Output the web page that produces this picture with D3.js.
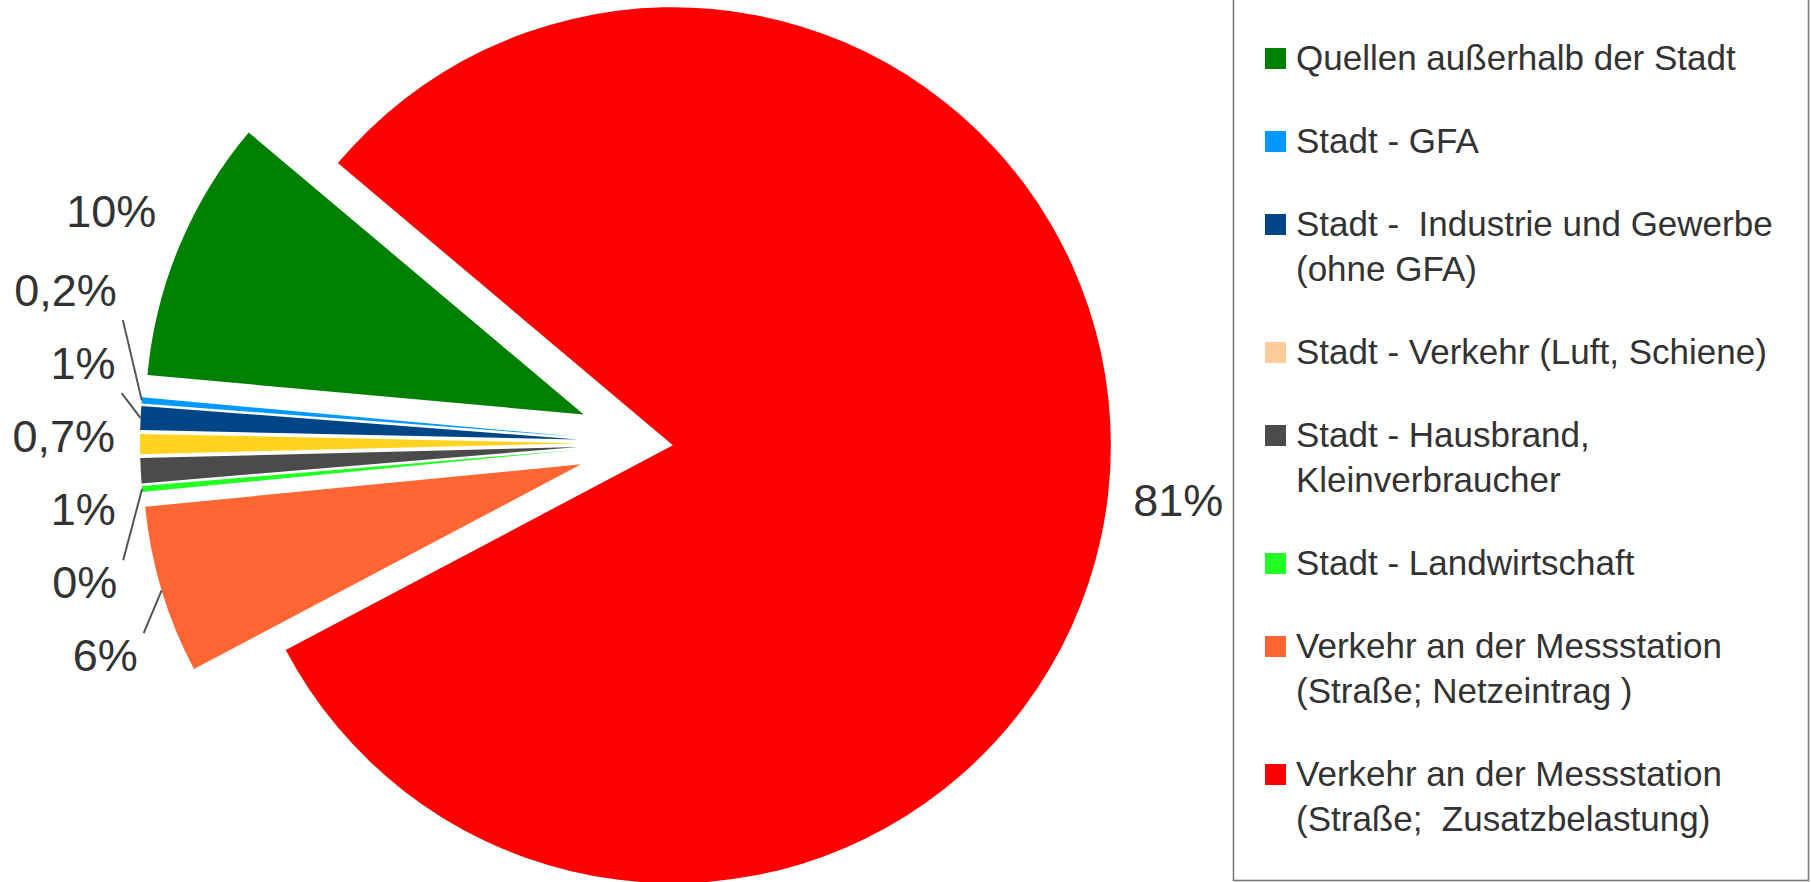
<!DOCTYPE html>
<html>
<head>
<meta charset="utf-8">
<script src="https://cdn.jsdelivr.net/npm/d3@7/dist/d3.min.js"></script>
<style>
  html, body { margin: 0; padding: 0; background: #fff; }
  svg { display: block; font-family: "Liberation Sans", Arial, sans-serif; }
</style>
</head>
<body>
<svg id="chart" width="1811" height="882"></svg>
<script>
// Categories in legend order (the pie runs counter-clockwise in this order).
// A "\n" splits a legend entry into two lines.
const categories = [
    'Quellen außerhalb der Stadt',
    'Stadt - GFA',
    'Stadt -  Industrie und Gewerbe\n(ohne GFA)',
    'Stadt - Verkehr (Luft, Schiene)',
    'Stadt - Hausbrand,\nKleinverbraucher',
    'Stadt - Landwirtschaft',
    'Verkehr an der Messstation\n(Straße; Netzeintrag )',
    'Verkehr an der Messstation\n(Straße;  Zusatzbelastung)'
];
// Shares in percent.
const shares = [9.7, 0.22, 0.88, 0.74, 0.92, 0.22, 6.2, 81.1];
// The percentage labels as printed on the chart.
const shareLabels = ['10%', '0,2%', '1%', '0,7%', '1%', '0%', '6%', '81%'];
// Slice colours and legend colours (the original legend shows a different swatch for "Verkehr (Luft, Schiene)").
const sliceColors = ['#008000', '#0099ff', '#004586', '#ffd320', '#4b4b4b', '#22ff22', '#ff6633', '#ff0000'];
const legendColors = ['#008000', '#0099ff', '#004586', '#ffcc99', '#4b4b4b', '#22ff22', '#ff6633', '#ff0000'];
// Labels that got pushed away from their slice and carry a connector line.
const leaderCategories = [categories[1], categories[2], categories[5], categories[6]];

// Layout settings.
const cx = 652, cy = 443, radius = 438;
const startDeg = 310.1;
const explodeMain = 21, explodeOther = 74;
const labelGap = 25, labelFont = 45, labelBoxH = 52, labelSpacing = 73;
const textColor = '#333333';

const svg = d3.select('#chart');
svg.append('rect').attr('width', 1811).attr('height', 882).attr('fill', '#fff');

const data = categories.map((c, i) => ({ name: c, value: shares[i], label: shareLabels[i], color: sliceColors[i] }));
const maxShare = d3.max(shares);

// Counter-clockwise pie, starting at the upper-left edge of the green slice.
const pie = d3.pie()
    .sort(null)
    .value(d => d.value)
    .startAngle(startDeg * Math.PI / 180)
    .endAngle((startDeg - 360) * Math.PI / 180);

const arc = d3.arc().innerRadius(0).outerRadius(radius);
const arcs = pie(data);

// Every slice is pulled out along its own middle angle.
arcs.forEach(a => {
    a.mid = (a.startAngle + a.endAngle) / 2;
    a.ux = Math.sin(a.mid);
    a.uy = -Math.cos(a.mid);
    const off = a.data.value === maxShare ? explodeMain : explodeOther;
    a.ox = cx + off * a.ux;
    a.oy = cy + off * a.uy;
});

svg.append('g')
    .selectAll('path')
    .data(arcs)
    .join('path')
    .attr('transform', d => `translate(${d.ox},${d.oy})`)
    .attr('d', arc)
    .attr('fill', d => d.data.color);

// Natural label positions just outside the arc.
arcs.forEach(a => {
    a.ax = a.ox + (radius + labelGap) * a.ux;
    const ay = a.oy + (radius + labelGap) * a.uy;
    a.side = a.ux < 0 ? 'end' : 'start';
    a.y0 = Math.abs(a.uy) < 0.3 ? ay + a.uy * labelBoxH : ay + Math.sign(a.uy) * labelBoxH / 2;
    a.ly = a.y0;
});

// Push crowded labels apart: merge overlapping ones into clusters centred on their mean.
function spread(items, gap) {
    items.sort((a, b) => a.y0 - b.y0);
    let clusters = items.map(it => ({ items: [it], mean: it.y0 }));
    let changed = true;
    while (changed) {
        changed = false;
        for (let k = 1; k < clusters.length; k++) {
            const a = clusters[k - 1], b = clusters[k];
            const aBottom = a.mean + (a.items.length - 1) * gap / 2;
            const bTop = b.mean - (b.items.length - 1) * gap / 2;
            if (bTop - aBottom < gap) {
                const merged = a.items.concat(b.items);
                clusters.splice(k - 1, 2, { items: merged, mean: d3.mean(merged, d => d.y0) });
                changed = true;
                break;
            }
        }
    }
    clusters.forEach(c => c.items.forEach((it, j) => {
        it.ly = c.mean + (j - (c.items.length - 1) / 2) * gap;
    }));
}
spread(arcs.filter(a => a.side === 'end'), labelSpacing);
spread(arcs.filter(a => a.side === 'start'), labelSpacing);

// Connector lines from the moved labels back to their slices.
svg.append('g')
    .selectAll('line')
    .data(arcs.filter(a => leaderCategories.includes(a.data.name)))
    .join('line')
    .attr('x1', d => d.ax + (d.side === 'end' ? 6 : -6))
    .attr('y1', d => {
        const tipY = d.oy + radius * d.uy;
        return d.ly < tipY ? d.ly + labelBoxH / 2 + 4 : d.ly - labelBoxH / 2 + 4;
    })
    .attr('x2', d => d.ox + radius * d.ux)
    .attr('y2', d => d.oy + radius * d.uy)
    .attr('stroke', '#555')
    .attr('stroke-width', 2);

svg.append('g')
    .selectAll('text')
    .data(arcs)
    .join('text')
    .attr('x', d => d.ax)
    .attr('y', d => d.ly + labelFont * 0.36)
    .attr('text-anchor', d => d.side)
    .attr('font-size', labelFont)
    .attr('fill', textColor)
    .text(d => d.data.label);

// Legend box on the right.
const legend = svg.append('g');
legend.append('rect')
    .attr('x', 1233.5).attr('y', -3)
    .attr('width', 575).attr('height', 883.5)
    .attr('fill', 'none')
    .attr('stroke', '#7a7a7a')
    .attr('stroke-width', 1.6);

const legendFont = 35, legendLineH = 45, legendStep = 83;
let baseline = 70;
categories.forEach((c, i) => {
    const lines = c.split('\n');
    legend.append('rect')
        .attr('x', 1265).attr('y', baseline - 22)
        .attr('width', 21).attr('height', 21)
        .attr('fill', legendColors[i]);
    const t = legend.append('text')
        .attr('x', 1296).attr('y', baseline)
        .attr('font-size', legendFont)
        .attr('fill', textColor)
        .style('white-space', 'pre');
    lines.forEach((ln, j) => {
        t.append('tspan')
            .attr('x', 1296)
            .attr('dy', j === 0 ? 0 : legendLineH)
            .text(ln);
    });
    baseline += legendStep + (lines.length - 1) * legendLineH;
});
</script>
</body>
</html>
